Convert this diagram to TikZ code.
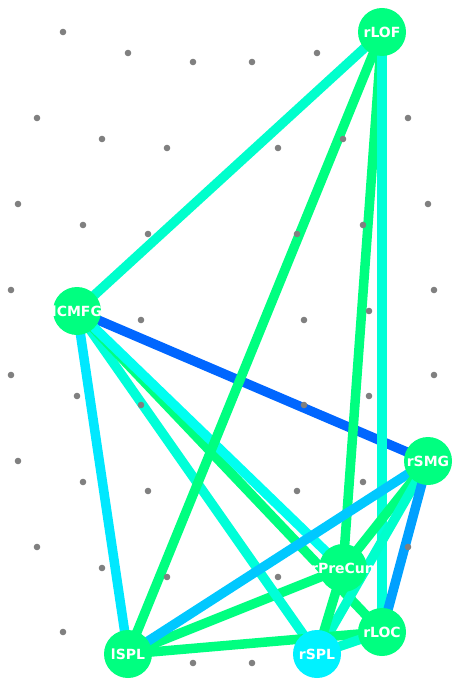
\documentclass[tikz,border=0pt]{standalone}
\usepackage{fontspec}
\newfontfamily\labfont{DejaVu Sans}
\pgfdeclarelayer{edges}
\pgfsetlayers{edges,main}
\definecolor{cgreen}{HTML}{00FF80}
\definecolor{cteal}{HTML}{00FFCC}
\definecolor{cteal2}{HTML}{00FFD8}
\definecolor{ccyan}{HTML}{00E8FF}
\definecolor{clcyan}{HTML}{00FFF0}
\definecolor{cblue}{HTML}{0066FF}
\definecolor{csky}{HTML}{00C8FF}
\definecolor{cmid}{HTML}{00A0FF}
\definecolor{cnodecyan}{HTML}{00F2FF}
\definecolor{cdot}{HTML}{808080}
\tikzset{
  vtx/.style={circle, fill=cgreen, draw=none, minimum size=48pt, inner sep=0pt},
  lab/.style={text=white, inner sep=0pt, font=\labfont\bfseries\fontsize{14}{16}\selectfont},
  edge/.style={line width=9.5pt, line cap=butt},
  graydot/.style={fill=cdot},
}
\begin{document}
\begin{tikzpicture}[x=1pt,y=-1pt]
\useasboundingbox (0,0) rectangle (452,679);
% dots
\foreach \px/\py in {63/32,382/32,128/53,317/53,193/62,252/62,37/118,408/118,102/139,343/139,167/148,278/148,
  18/204,428/204,83/225,363/225,148/234,297/234,11/290,434/290,77/311,369/311,141/320,304/320,
  11/375,434/375,77/396,369/396,141/405,304/405,18/461,428/461,83/482,363/482,148/491,297/491,
  37/547,408/547,102/568,343/568,167/577,278/577,63/632,382/632,128/654,317/654,193/663,252/663}
  \fill[graydot] (\px,\py) circle (3.3);
% nodes
\node[vtx, label={[lab]center:rLOF}] (lof) at (382,32) {};
\node[vtx, label={[lab]center:lCMFG}] (cmfg) at (77,311) {};
\node[vtx, label={[lab]center:rSMG}] (smg) at (428,461) {};
\node[vtx, label={[lab]center:rPreCun}] (pc) at (343,568) {};
\node[vtx, label={[lab]center:rLOC}] (loc) at (382,632) {};
\node[vtx, label={[lab]center:lSPL}] (lspl) at (128,654) {};
\node[vtx, fill=cnodecyan, label={[lab]center:rSPL}] (rspl) at (317,654) {};
% edges
\begin{pgfonlayer}{edges}
\draw[edge, cblue] (cmfg.center) -- (smg.center);
\draw[edge, cteal] (cmfg.center) -- (lof.center);
\draw[edge, ccyan] (cmfg.center) -- (lspl.center);
\draw[edge, cgreen] (lspl.center) -- (pc.center);
\draw[edge, cteal2] (cmfg.center) -- (rspl.center);
\draw[edge, cgreen] (cmfg.center) -- (loc.center);
\draw[edge, clcyan] (cmfg.center) -- (pc.center);
\draw[edge, cgreen] (lof.center) -- (lspl.center);
\draw[edge, cgreen] (lof.center) -- (pc.center);
\draw[edge, cteal2, line width=10.5pt] (lof.center) -- (loc.center);
\draw[edge, csky] (smg.center) -- (lspl.center);
\draw[edge, cgreen] (smg.center) -- (pc.center);
\draw[edge, cteal] (smg.center) -- (rspl.center);
\draw[edge, cmid] (smg.center) -- (loc.center);
\draw[edge, cgreen] (lspl.center) -- (loc.center);
\draw[edge, cgreen] (pc.center) -- (rspl.center);
\draw[edge, cteal] (rspl.center) -- (loc.center);
\end{pgfonlayer}
\end{tikzpicture}
\end{document}
